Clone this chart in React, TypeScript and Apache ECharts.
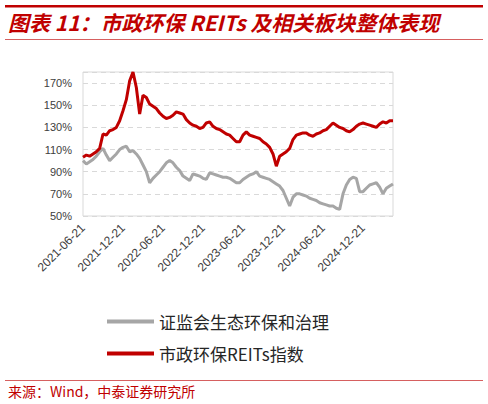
import { useEffect, useRef } from 'react';
import * as echarts from 'echarts';

// half-month sampling, starting 2021-06-21
const START_YEAR = 2021;
const START_MONTH = 6;
const POINTS = 94;

const SERIES_NAMES = ['证监会生态环保和治理', '市政环保REITs指数'];
const SERIES_COLORS = ['#A6A6A6', '#C00000'];

const ENV_INDEX = [
  100, 97, 99, 101, 104, 108, 111, 105, 100, 103,
  106, 110, 112, 113, 108, 109, 106, 102, 96, 90,
  80, 84, 87, 90, 94, 98, 100, 98, 94, 91,
  86, 84, 82, 88, 87, 86, 84, 83, 89, 88,
  87, 86, 85, 85, 84, 82, 80, 80, 83, 85,
  87, 88, 90, 86, 85, 84, 83, 81, 79, 77,
  73, 66, 59, 67, 70, 70, 69, 68, 66, 65,
  64, 62, 61, 60, 59, 59, 57, 56, 70, 78,
  83, 85, 84, 72, 72, 75, 78, 79, 80, 76,
  70, 75, 77, 79,
];

const REITS_INDEX = [
  103, 105, 104, 106, 108, 111, 124, 123, 127, 128,
  130, 136, 145, 155, 172, 180, 166, 142, 159, 157,
  151, 149, 147, 143, 140, 138, 139, 141, 144, 143,
  142, 137, 134, 132, 131, 129, 130, 134, 135, 131,
  129, 128, 126, 124, 123, 120, 117, 117, 123, 126,
  123, 122, 121, 120, 117, 115, 112, 106, 95, 104,
  106, 108, 111, 119, 123, 124, 125, 125, 123, 122,
  124, 125, 127, 128, 131, 134, 132, 130, 129, 127,
  126, 128, 131, 133, 134, 133, 132, 131, 130, 133,
  135, 134, 136, 136,
];

const Y_MIN = 50;
const Y_MAX = 180;
const Y_STEP = 20;
const LABEL_EVERY = 12;

const TITLE = '图表 11：市政环保 REITs 及相关板块整体表现';
const SOURCE = '来源：Wind，中泰证券研究所';

function buildDates(): string[] {
  const out: string[] = [];
  let y = START_YEAR;
  let m = START_MONTH;
  let d = 21;
  for (let i = 0; i < POINTS; i++) {
    out.push(`${y}-${String(m).padStart(2, '0')}-${String(d).padStart(2, '0')}`);
    if (d === 21) {
      d = 6;
      m += 1;
      if (m > 12) { m = 1; y += 1; }
    } else {
      d = 21;
    }
  }
  return out;
}

const DATES = buildDates();

export default function App() {
  const ref = useRef<HTMLDivElement | null>(null);

  useEffect(() => {
    document.body.style.margin = '0';
    if (!ref.current) return;
    const chart = echarts.init(ref.current, undefined, { renderer: 'svg' });

    const axisFont = 'Arial, "Liberation Sans", sans-serif';
    const cjkFont = '"Noto Sans CJK SC", sans-serif';

    chart.setOption({
      animation: false,
      backgroundColor: '#fff',
      grid: {
        left: 83, right: 95, top: 72, bottom: 188,
        show: true, borderColor: '#D9D9D9', borderWidth: 1,
      },
      legend: {
        orient: 'vertical',
        left: 102,
        top: 308,
        itemWidth: 47,
        itemHeight: 4,
        itemGap: 15,
        icon: 'rect',
        data: SERIES_NAMES,
        textStyle: { fontSize: 17, color: '#262626', fontFamily: cjkFont },
      },
      xAxis: {
        type: 'category',
        data: DATES,
        boundaryGap: false,
        axisLine: { show: false },
        axisTick: { show: false },
        splitLine: { show: false },
        axisLabel: {
          interval: (i: number) => i % LABEL_EVERY === 0,
          rotate: 45,
          margin: 10,
          fontSize: 12,
          color: '#404040',
          fontFamily: axisFont,
        },
      },
      yAxis: {
        type: 'value',
        min: Y_MIN,
        max: Y_MAX,
        interval: Y_STEP,
        axisLine: { show: false },
        axisTick: { show: false },
        splitLine: { lineStyle: { color: '#D9D9D9', type: [5, 4], width: 1 } },
        axisLabel: {
          formatter: '{value}%',
          showMaxLabel: false,
          margin: 11,
          fontSize: 11,
          color: '#404040',
          fontFamily: axisFont,
        },
      },
      series: [
        {
          name: SERIES_NAMES[0],
          type: 'line',
          data: ENV_INDEX,
          showSymbol: false,
          color: SERIES_COLORS[0],
          lineStyle: { width: 3, color: SERIES_COLORS[0] },
        },
        {
          name: SERIES_NAMES[1],
          type: 'line',
          data: REITS_INDEX,
          showSymbol: false,
          color: SERIES_COLORS[1],
          lineStyle: { width: 3, color: SERIES_COLORS[1] },
        },
      ],
      graphic: [
        { type: 'rect', shape: { x: 5, y: 5, width: 478, height: 2.5 }, style: { fill: '#C00000' } },
        {
          type: 'text', left: 8, top: 11,
          style: {
            text: TITLE, fill: '#C00000',
            font: `italic bold 21px ${cjkFont}`,
          },
        },
        { type: 'rect', shape: { x: 5, y: 39, width: 478, height: 1 }, style: { fill: '#D66060' } },
        { type: 'rect', shape: { x: 5, y: 380, width: 478, height: 1 }, style: { fill: '#D66060' } },
        {
          type: 'text', left: 8, top: 384,
          style: {
            text: SOURCE, fill: '#C00000',
            font: `14px ${cjkFont}`,
          },
        },
      ],
    });

    return () => chart.dispose();
  }, []);

  return <div ref={ref} style={{ width: 488, height: 404 }} />;
}
